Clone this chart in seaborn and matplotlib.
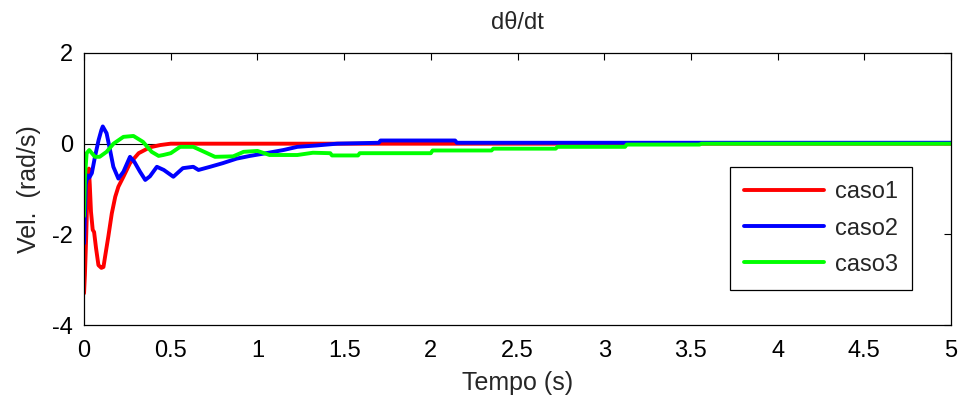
import numpy as np
import pandas as pd
import seaborn as sns
import matplotlib
matplotlib.use("Agg")
import matplotlib.pyplot as plt

# values
t_caso1 = [0, 0.005, 0.012, 0.02, 0.028, 0.033, 0.04, 0.05, 0.058, 0.069, 0.083, 0.1,
           0.112, 0.121, 0.14, 0.16, 0.18, 0.198, 0.227, 0.265, 0.315, 0.38, 0.44, 0.5,
           1.0, 2.0, 3.0, 4.0, 5.0]
v_caso1 = [-3.3, -2.9, -2.1, -1.0, -0.55, -0.9, -1.5, -1.9, -1.95, -2.3, -2.68, -2.74,
           -2.72, -2.5, -2.05, -1.54, -1.17, -0.95, -0.73, -0.43, -0.21, -0.08, -0.03, 0,
           0, 0, 0, 0, 0]

t_caso2 = [0, 0.004, 0.01, 0.02, 0.03, 0.045, 0.063, 0.084, 0.1, 0.108, 0.13, 0.15,
           0.169, 0.198, 0.227, 0.265, 0.29, 0.323, 0.353, 0.38, 0.42, 0.46, 0.515, 0.57,
           0.63, 0.66, 0.727, 0.8, 0.88, 0.957, 1.05, 1.15, 1.23, 1.34, 1.46, 1.7, 1.71,
           2.14, 2.15, 3.0, 5.0]
v_caso2 = [-2.2, -1.7, -0.9, -0.7, -0.75, -0.65, -0.29, 0.08, 0.3, 0.38, 0.23, -0.14,
           -0.51, -0.77, -0.62, -0.29, -0.4, -0.62, -0.8, -0.72, -0.51, -0.58, -0.73, -0.54,
           -0.51, -0.58, -0.51, -0.43, -0.33, -0.27, -0.21, -0.14, -0.07, -0.04, 0.0, 0.02,
           0.07, 0.07, 0.02, 0.02, 0.02]

t_caso3 = [0, 0.005, 0.015, 0.03, 0.063, 0.09, 0.13, 0.17, 0.227, 0.285, 0.34, 0.39,
           0.43, 0.457, 0.5, 0.554, 0.63, 0.71, 0.755, 0.86, 0.92, 1.0, 1.07, 1.23, 1.32,
           1.42, 1.43, 1.58, 1.59, 2.0, 2.01, 2.35, 2.36, 2.72, 2.73, 3.12, 3.13, 3.55,
           3.56, 5.0]
v_caso3 = [-1.6, -0.75, -0.21, -0.14, -0.29, -0.29, -0.18, 0.0, 0.15, 0.17, 0.04, -0.18,
           -0.27, -0.25, -0.21, -0.07, -0.07, -0.21, -0.29, -0.28, -0.18, -0.16, -0.25,
           -0.25, -0.20, -0.21, -0.26, -0.26, -0.21, -0.21, -0.15, -0.15, -0.11, -0.11,
           -0.07, -0.07, -0.02, -0.02, 0.0, 0.0]

casos = ["caso1", "caso2", "caso3"]
cores = ["#ff0000", "#0000ff", "#00ff00"]

df = pd.concat([
    pd.DataFrame({"t": t_caso1, "v": v_caso1, "caso": "caso1"}),
    pd.DataFrame({"t": t_caso2, "v": v_caso2, "caso": "caso2"}),
    pd.DataFrame({"t": t_caso3, "v": v_caso3, "caso": "caso3"}),
], ignore_index=True)

sns.set_style("white")
plt.rcParams["font.family"] = ["Liberation Sans", "DejaVu Sans"]
plt.rcParams["axes.unicode_minus"] = False

fig = plt.figure(figsize=(9.66, 4.03), dpi=100)
ax = fig.add_subplot(111)
fig.subplots_adjust(left=0.087, right=0.9845, top=0.8685, bottom=0.1935)

# reference line at zero
ax.axhline(0, color="black", lw=0.8, zorder=1)

sns.lineplot(data=df, x="t", y="v", hue="caso", hue_order=casos,
             palette=cores, estimator=None, sort=False, lw=2.8, ax=ax, zorder=2)

ax.set_xlim(0, 5)
ax.set_ylim(-4, 2)
ax.set_xticks(np.arange(0, 5.01, 0.5))
ax.set_xticklabels(["0", "0.5", "1", "1.5", "2", "2.5", "3", "3.5", "4", "4.5", "5"])
ax.set_yticks([-4, -2, 0, 2])
ax.tick_params(direction="in", top=True, right=True, length=5, width=0.8,
               labelsize=17, colors="black")
ax.tick_params(axis="x", pad=11)
ax.tick_params(axis="y", pad=8)
for s in ax.spines.values():
    s.set_visible(True)
    s.set_color("black")
    s.set_linewidth(0.9)

ax.set_xlabel("Tempo (s)", fontsize=18, labelpad=6)
ax.set_ylabel("Vel.  (rad/s)", fontsize=18, labelpad=8)
ax.set_title("d\u03b8/dt", fontsize=17, pad=17)

leg = ax.legend(loc="lower right", bbox_to_anchor=(0.955, 0.129), borderaxespad=0,
                fontsize=17, fancybox=False, framealpha=1, edgecolor="black",
                handlelength=3.4, handletextpad=0.45, borderpad=0.6, labelspacing=0.6)
leg.get_frame().set_linewidth(0.9)
for h in leg.get_lines():
    h.set_linewidth(2.8)

fig.savefig("out.png", dpi=100)
